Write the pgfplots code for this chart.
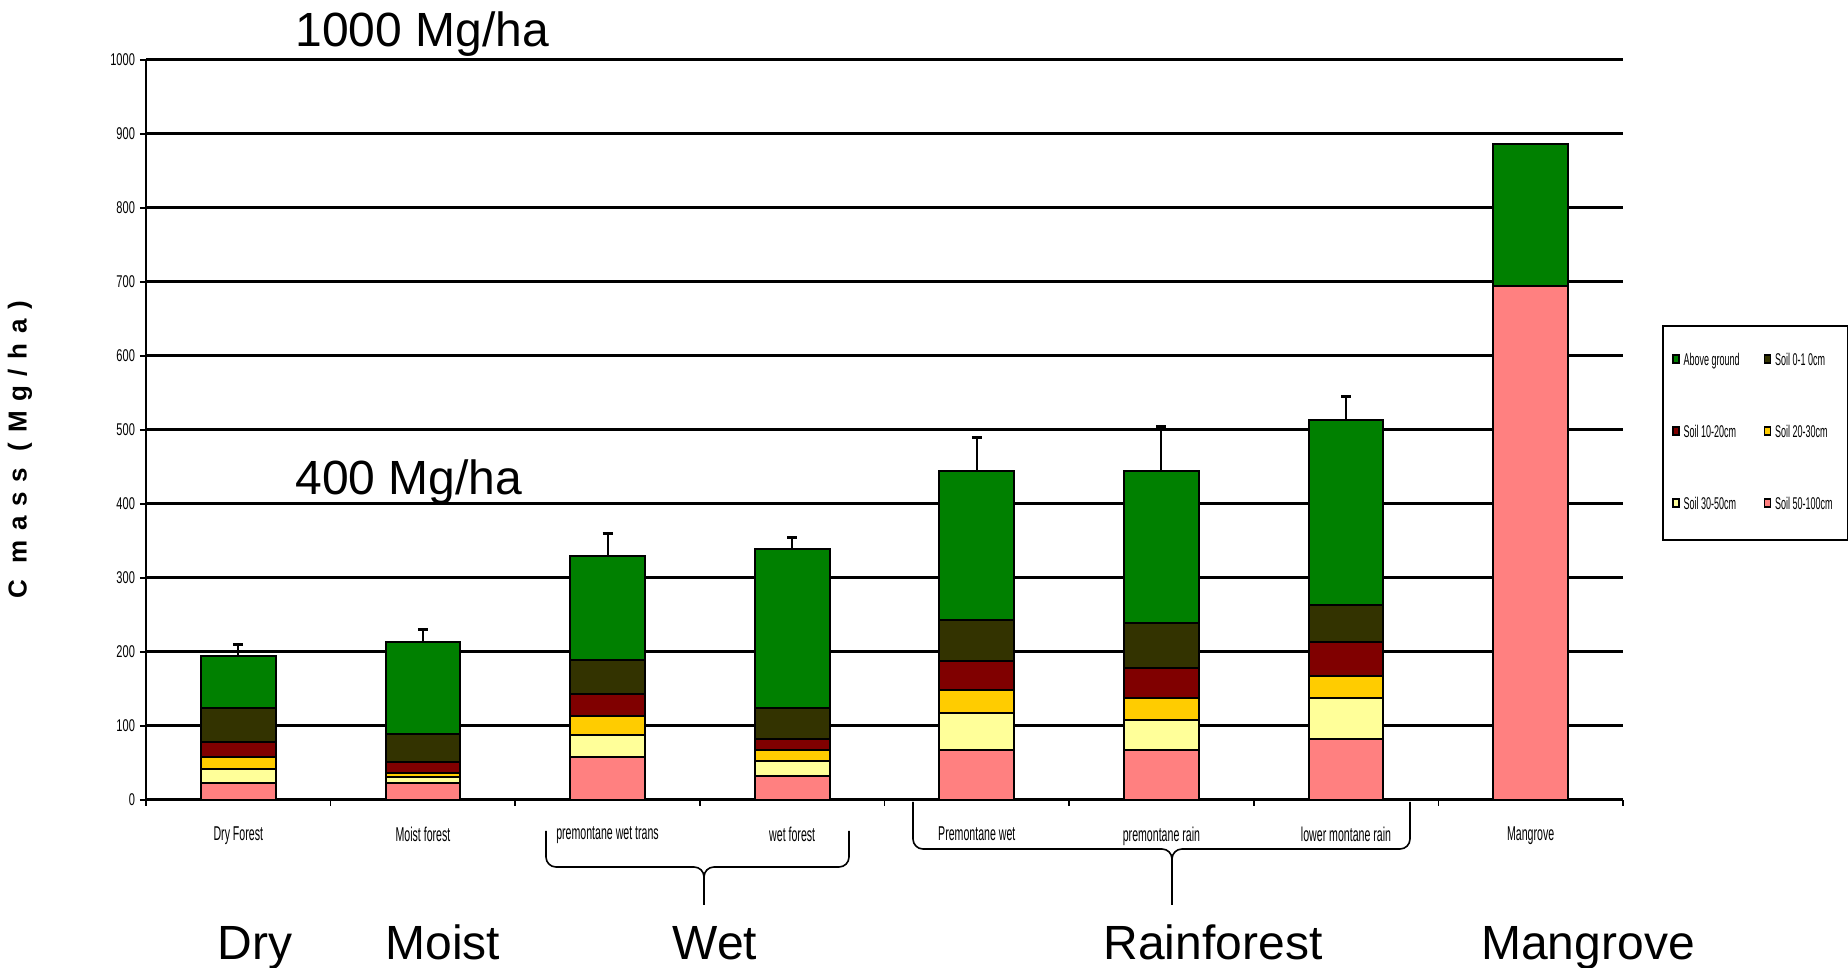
\documentclass[border=0pt]{standalone}
\usepackage{fontspec}
\setmainfont{Liberation Sans}
\usepackage{graphicx}
\usepackage{pgfplots}
\pgfplotsset{compat=1.18}

\definecolor{cAbove}{RGB}{0,128,0}
\definecolor{cSoilA}{RGB}{51,51,0}
\definecolor{cSoilB}{RGB}{128,0,0}
\definecolor{cSoilC}{RGB}{255,204,0}
\definecolor{cSoilD}{RGB}{255,255,153}
\definecolor{cSoilE}{RGB}{255,128,128}

% condensed look of the original labels
\newcommand{\narrow}[1]{\scalebox{0.53}[1]{#1}}
\newcommand{\lgdA}[1]{\makebox[38pt][l]{\narrow{#1}}}
\newcommand{\lgdB}[1]{\makebox[30pt][l]{\narrow{#1}}}

\pgfplotsset{
  sq/.style={legend image code/.code={\draw[##1, draw=black, line width=0.8pt] (0pt,-1pt) rectangle (3pt,3pt);}},
}

\begin{document}
\begin{tikzpicture}
\begin{axis}[
  at={(0,0)}, anchor=south west,
  scale only axis, width=738.5pt, height=370pt,
  ybar stacked, bar width=0.405,
  xmin=-0.5, xmax=7.5, ymin=0, ymax=1000,
  axis x line*=bottom, axis y line*=left,
  axis line style={-},
  x axis line style={line width=1.5pt},
  y axis line style={line width=0.9pt},
  ymajorgrids, major grid style={black, line width=1.5pt},
  tick align=outside, major tick length=3pt,
  tick style={black, line width=0.8pt},
  ytick={0,100,...,1000},
  /pgf/number format/assume math mode=true,
  /pgf/number format/1000 sep={},
  yticklabel={\scalebox{0.65}[1]{\pgfmathprintnumber{\tick}}},
  yticklabel style={font=\fontsize{8.5}{9}\selectfont, xshift=1pt},
  xtick={-0.5,0.5,...,7.5},
  x tick label as interval,
  xticklabels={\narrow{Dry Forest},\narrow{Moist forest},\narrow{premontane wet trans},\narrow{wet forest},\narrow{Premontane wet},\narrow{premontane rain},\narrow{lower montane rain},\narrow{Mangrove}},
  xticklabel style={font=\fontsize{10}{11}\selectfont, yshift=-7pt},
  legend columns=2,
  legend style={at={(1.0264,0.642)}, anchor=north west, draw=black, line width=1pt,
    inner xsep=4.5pt, inner ysep=11.7pt, row sep=24.4pt,
    font=\fontsize{8.5}{9}\selectfont, cells={anchor=west}},
  clip=false,
]
\addlegendimage{sq, fill=cAbove}\addlegendentry{\lgdA{Above ground}}
\addlegendimage{sq, fill=cSoilA}\addlegendentry{\lgdB{Soil 0-1 0cm}}
\addlegendimage{sq, fill=cSoilB}\addlegendentry{\lgdA{Soil 10-20cm}}
\addlegendimage{sq, fill=cSoilC}\addlegendentry{\lgdB{Soil 20-30cm}}
\addlegendimage{sq, fill=cSoilD}\addlegendentry{\lgdA{Soil 30-50cm}}
\addlegendimage{sq, fill=cSoilE}\addlegendentry{\lgdB{Soil 50-100cm}}

% soil 50-100 cm (bottom of the stack)
\addplot[forget plot, fill=cSoilE, draw=black, line width=1pt] coordinates {
  (0,23) (1,23) (2,58) (3,33) (4,68) (5,68) (6,83) (7,695)};
% soil 30-50 cm
\addplot[forget plot, fill=cSoilD, draw=black, line width=1pt] coordinates {
  (0,19) (1,8.5) (2,30) (3,20) (4,50) (5,40) (6,55) (7,0)};
% soil 20-30 cm
\addplot[forget plot, fill=cSoilC, draw=black, line width=1pt] coordinates {
  (0,16) (1,5.5) (2,25) (3,15) (4,31) (5,30) (6,30) (7,0)};
% soil 10-20 cm
\addplot[forget plot, fill=cSoilB, draw=black, line width=1pt] coordinates {
  (0,20) (1,15) (2,30) (3,14) (4,39) (5,40) (6,45) (7,0)};
% soil 0-10 cm
\addplot[forget plot, fill=cSoilA, draw=black, line width=1pt] coordinates {
  (0,46) (1,37) (2,46) (3,42) (4,55) (5,61) (6,50) (7,0)};
% above ground
\addplot[forget plot, fill=cAbove, draw=black, line width=1pt] coordinates {
  (0,71) (1,125) (2,141) (3,215) (4,202) (5,206) (6,251) (7,191)};

% error bars on the totals
\addplot[forget plot, stack plots=false, sharp plot, draw=none, mark=none,
  error bars/.cd, y dir=plus, y explicit,
  error bar style={draw=black, line width=1pt},
  error mark options={rotate=90, draw=black, line width=1.6pt, mark size=2.5pt}]
  coordinates {
  (0,195) +- (0,15) (1,214) +- (0,16) (2,330) +- (0,30) (3,339) +- (0,16)
  (4,445) +- (0,45) (5,445) +- (0,60) (6,514) +- (0,31)};
\end{axis}

% annotations (pt, origin at the lower left corner of the axis)
\node[anchor=base west, font=\fontsize{24}{28}\selectfont, inner sep=0pt] at (74.5pt,376.5pt) {1000 Mg/ha};
\node[anchor=base west, font=\fontsize{24}{28}\selectfont, inner sep=0pt] at (74.5pt,152.5pt) {400 Mg/ha};
\node[rotate=90, font=\fontsize{13}{15}\selectfont\bfseries\addfontfeature{LetterSpace=37}] at (-63pt,175pt) {C mass (Mg/ha)};

\begin{scope}[font=\fontsize{24}{28}\selectfont, inner sep=0pt]
\node[anchor=base] at (54.5pt,-80pt) {Dry};
\node[anchor=base] at (148.5pt,-80pt) {Moist};
\node[anchor=base] at (284.5pt,-80pt) {Wet};
\node[anchor=base] at (533.5pt,-80pt) {Rainforest};
\node[anchor=base] at (721pt,-80pt) {Mangrove};
\end{scope}

% braces
\begin{scope}[line width=0.8pt]
\draw (200pt,-15.5pt) -- (200pt,-28.5pt) to[out=-90,in=180] (205pt,-33.5pt) -- (274pt,-33.5pt) to[out=0,in=90] (279pt,-38.5pt) -- (279pt,-52.5pt);
\draw (351.5pt,-15.5pt) -- (351.5pt,-28.5pt) to[out=-90,in=0] (346.5pt,-33.5pt) -- (284pt,-33.5pt) to[out=180,in=90] (279pt,-38.5pt);
\draw (383.5pt,-1pt) -- (383.5pt,-19.5pt) to[out=-90,in=180] (388.5pt,-24.5pt) -- (508pt,-24.5pt) to[out=0,in=90] (513pt,-29.5pt) -- (513pt,-52.5pt);
\draw (632pt,-1pt) -- (632pt,-19.5pt) to[out=-90,in=0] (627pt,-24.5pt) -- (518pt,-24.5pt) to[out=180,in=90] (513pt,-29.5pt);
\end{scope}

\pgfresetboundingbox
\path[use as bounding box] (-73pt,-84pt) rectangle (851pt,400pt);
\end{tikzpicture}
\end{document}
